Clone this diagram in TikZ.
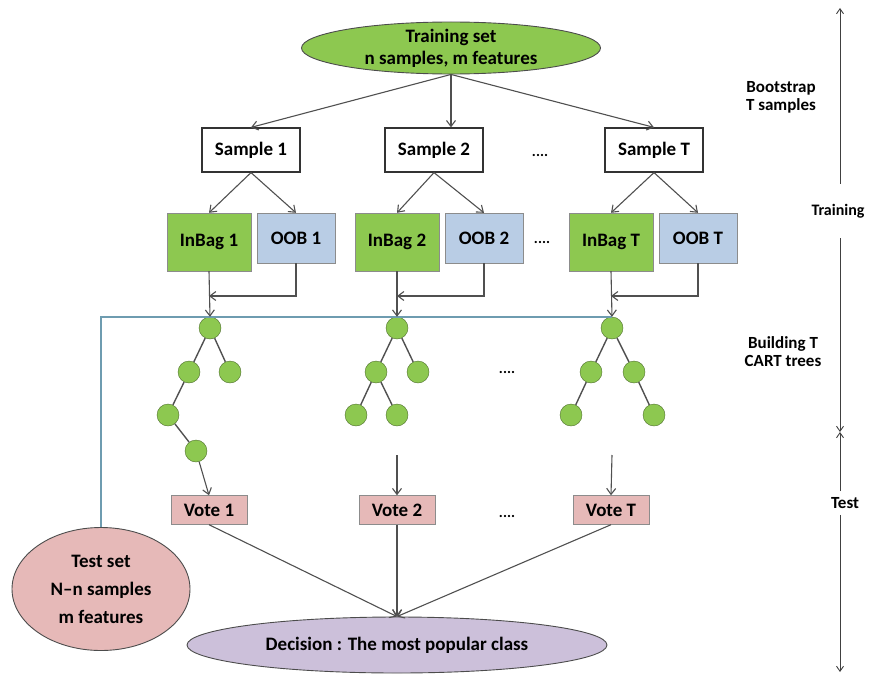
\documentclass[tikz,border=0pt]{standalone}
\usepackage{fontspec}
\setmainfont{Carlito}
\usetikzlibrary{shapes.geometric,arrows.meta}

\definecolor{leafgreen}{HTML}{8DC850}
\definecolor{oobblue}{HTML}{B9CDE5}
\definecolor{votepink}{HTML}{E6B9B8}
\definecolor{declilac}{HTML}{CCC0DA}
\definecolor{testline}{HTML}{6E9CB0}
\definecolor{edgegray}{HTML}{505050}

\tikzset{
  every node/.style={font=\bfseries\fontsize{19}{22}\selectfont},
  arr/.style={-{Straight Barb[length=6pt,width=9pt]},draw=edgegray,line width=1.1pt},
  axarr/.style={-{Straight Barb[length=5pt,width=7pt]},draw=black!75,line width=0.9pt},
  samplebox/.style={draw=black!80,fill=white,line width=1.2pt,minimum width=98pt,minimum height=44pt},
  inbagbox/.style={draw=black!45,fill=leafgreen,minimum width=84pt,minimum height=58pt},
  oobbox/.style={draw=black!45,fill=oobblue,minimum width=78pt,minimum height=50pt},
  votebox/.style={draw=black!45,fill=votepink,minimum width=76pt,minimum height=29pt,inner sep=0pt},
  leaf/.style={circle,fill=leafgreen,draw=leafgreen!55!black,minimum size=22pt,inner sep=0pt},
  oval/.style={ellipse,draw=black!70,line width=0.9pt,inner sep=0pt},
  phase/.style={font=\bfseries\fontsize{17}{18}\selectfont,align=center},
  dots/.style={font=\bfseries\fontsize{15}{18}\selectfont}
}

\begin{document}
\begin{tikzpicture}[x=1pt,y=-1pt]
\useasboundingbox (0,0) rectangle (872,677);

% training set and bootstrap samples
\node[oval,fill=leafgreen,minimum width=299pt,minimum height=52pt,
  label={[align=center]center:Training set\\n samples, m features}] (train) at (451,48) {};

\foreach \n/\s/\b/\o in {1/251/209/296, 2/434/397/484, T/654/611/698} {
	\node[samplebox] (s\n) at (\s,150) {Sample \n};
	\node[inbagbox] (ib\n) at (\b,242) {InBag \n};
	\node[oobbox] (oob\n) at (\o,238) {OOB \n};
	\node[votebox] (v\n) at (\b,510) {Vote \n};
	\coordinate (j\n) at (\b,296);
}
\node[dots] (d1) at (540,155) {....};
\node[dots] (d2) at (542,242) {....};

% trees
\node[leaf] (r1) at (210,328) {};
\node[leaf] (a1) at (189,372) {};
\node[leaf] (b1) at (230,372) {};
\node[leaf] (c1) at (168,415) {};
\node[leaf] (e1) at (196,451) {};
\node[leaf] (r2) at (397,328) {};
\node[leaf] (a2) at (376,372) {};
\node[leaf] (b2) at (418,372) {};
\node[leaf] (c2) at (356,415) {};
\node[leaf] (e2) at (397,415) {};
\node[leaf] (rT) at (612,328) {};
\node[leaf] (aT) at (591,372) {};
\node[leaf] (bT) at (634,372) {};
\node[leaf] (cT) at (571,415) {};
\node[leaf] (eT) at (654,415) {};
\node[dots] (d3) at (507,372) {....};
\coordinate (t2) at (397,455);
\coordinate (tT) at (612,455);

\draw[edgegray,line width=1.4pt] (r1) -- (a1) (r1) -- (b1) (a1) -- (c1) (c1) -- (e1);
\draw[edgegray,line width=1.4pt] (r2) -- (a2) (r2) -- (b2) (a2) -- (c2) (a2) -- (e2);
\draw[edgegray,line width=1.4pt] (rT) -- (aT) (rT) -- (bT) (aT) -- (cT) (bT) -- (eT);

% test set and decision
\node[oval,fill=votepink,minimum width=178pt,minimum height=123pt,
  label={[align=center,font=\bfseries\fontsize{19}{28}\selectfont]center:Test set\\N--n samples\\m features}] (testset) at (101,589) {};
\node[oval,fill=declilac,minimum width=420pt,minimum height=56pt,
  label={center:Decision : The most popular class}] (dec) at (397,645) {};
\node[dots] (d4) at (507,516) {....};

\draw[testline,line width=1.6pt] (testset.north) |- (rT.north);

% connectors
\draw[arr] (train.south) -- (s1.north);
\draw[arr] (train.south) -- (train.south |- s2.north);
\draw[arr] (train.south) -- (sT.north);
\foreach \n in {1,2,T} {
	\draw[arr] (s\n.south) -- (ib\n.north);
	\draw[arr] (s\n.south) -- (oob\n.north);
	\draw[arr] (oob\n.south) |- (j\n);
	\draw[arr] (ib\n.south) -- (r\n.north);
	\draw[arr] (v\n.south) -- (dec.north);
}
\draw[arr] (e1) -- (v1.north);
\draw[arr] (t2) -- (v2.north);
\draw[arr] (tT) -- (vT.north);

% phases on the right
\coordinate (axtop) at (840,8);
\coordinate (axmid) at (840,432);
\coordinate (axbot) at (840,672);
\node[phase] (boot) at (781,97) {Bootstrap\\T samples};
\node[phase] (build) at (783,352) {Building T\\CART trees};
\node[phase,font=\bfseries\fontsize{16}{18}\selectfont,inner ysep=20pt] (lbtrain) at (838,211) {Training};
\node[phase,inner ysep=6pt] (lbtest) at (845,503) {Test};
\draw[axarr] (axtop |- lbtrain.north) -- (axtop);
\draw[axarr] (axtop |- lbtrain.south) -- (axmid);
\draw[axarr] (axtop |- lbtest.north) -- (axmid);
\draw[axarr] (axtop |- lbtest.south) -- (axbot);
\end{tikzpicture}
\end{document}
